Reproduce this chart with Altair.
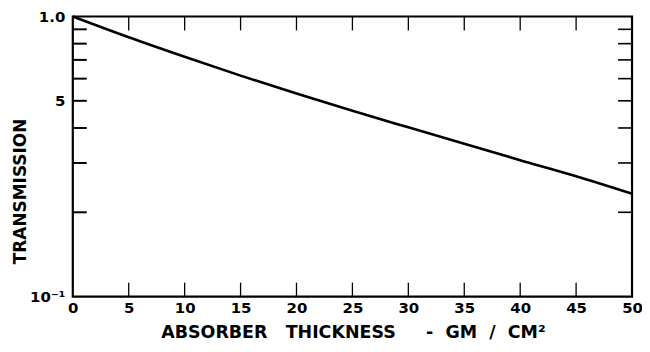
import altair as alt
import pandas as pd

# Data
thickness = [0, 5, 10, 15, 20, 25, 30, 35, 40, 45, 50]
transmission = [1.0, 0.843, 0.718, 0.615, 0.531, 0.461, 0.402, 0.351, 0.307, 0.269, 0.233]
x_tick_values = [5, 10, 15, 20, 25, 30, 35, 40, 45]
y_tick_values = [0.2, 0.3, 0.4, 0.5, 0.6, 0.7, 0.8, 0.9]
x_label_values = [0, 5, 10, 15, 20, 25, 30, 35, 40, 45, 50]
y_label_values = [0.1, 0.5, 1.0]

NB = "\u00a0"
x_title = ("ABSORBER" + NB * 3 + "THICKNESS" + NB * 5 + "-" + NB * 2 + "GM"
           + NB * 2 + "/" + NB * 2 + "CM²")
y_title = "TRANSMISSION"

W, H = 561, 281
FONT = "DejaVu Sans"
TL = 14  # inward tick length

line_df = pd.DataFrame({"x": thickness, "t": transmission})
xt_df = pd.DataFrame({"x": x_tick_values})
yt_df = pd.DataFrame({"t": y_tick_values})

xs = alt.Scale(domain=[0, 50], nice=False, zero=False)
ys = alt.Scale(type="log", domain=[0.1, 1.0], nice=False)

x_axis = alt.Axis(
    values=x_label_values, title=x_title,
    ticks=False, domain=False, grid=False,
    labelFont=FONT, labelFontSize=15, labelFontWeight="bold", labelColor="black",
    labelPadding=4, labelFlush=False, labelOverlap=False,
    titleFont=FONT, titleFontSize=17.5, titleFontWeight="bold", titleColor="black",
    titleX=281, titleY=36, titleBaseline="middle", titleAlign="center")
y_axis = alt.Axis(
    values=y_label_values,
    labelExpr="datum.value > 0.99 ? '1.0' : (datum.value > 0.4 ? '5' : '10⁻¹')",
    ticks=False, domain=False, grid=False,
    labelFont=FONT, labelFontSize=15, labelFontWeight="bold", labelColor="black",
    labelPadding=8, labelFlush=False, labelOverlap=False,
    title=y_title,
    titleFont=FONT, titleFontSize=17, titleFontWeight="bold", titleColor="black",
    titleX=-52, titleY=175, titleBaseline="middle", titleAlign="center", titleAngle=270)

line = alt.Chart(line_df).mark_line(color="black", strokeWidth=2.6, interpolate="monotone").encode(
    x=alt.X("x:Q", scale=xs, axis=x_axis),
    y=alt.Y("t:Q", scale=ys, axis=y_axis),
)

left_ticks = alt.Chart(yt_df).mark_rule(color="black", strokeWidth=2).encode(
    y=alt.Y("t:Q", scale=ys, axis=y_axis), x=alt.value(0), x2=alt.value(TL))
right_ticks = alt.Chart(yt_df).mark_rule(color="black", strokeWidth=1.6).encode(
    y=alt.Y("t:Q", scale=ys, axis=y_axis), x=alt.value(W - TL), x2=alt.value(W))
top_ticks = alt.Chart(xt_df).mark_rule(color="black", strokeWidth=1.3).encode(
    x=alt.X("x:Q", scale=xs, axis=x_axis), y=alt.value(0), y2=alt.value(TL))
bottom_ticks = alt.Chart(xt_df).mark_rule(color="black", strokeWidth=1.3).encode(
    x=alt.X("x:Q", scale=xs, axis=x_axis), y=alt.value(H - TL), y2=alt.value(H))

chart = alt.layer(line, left_ticks, right_ticks, top_ticks, bottom_ticks).properties(
    width=W, height=H,
    autosize=alt.AutoSizeParams(type="none"),
    padding={"left": 65, "top": 8, "right": 10, "bottom": 45},
    background="white",
).configure_view(stroke="black", strokeWidth=2.2)

chart.save("out.html", embed_options={"renderer": "svg", "actions": False})
